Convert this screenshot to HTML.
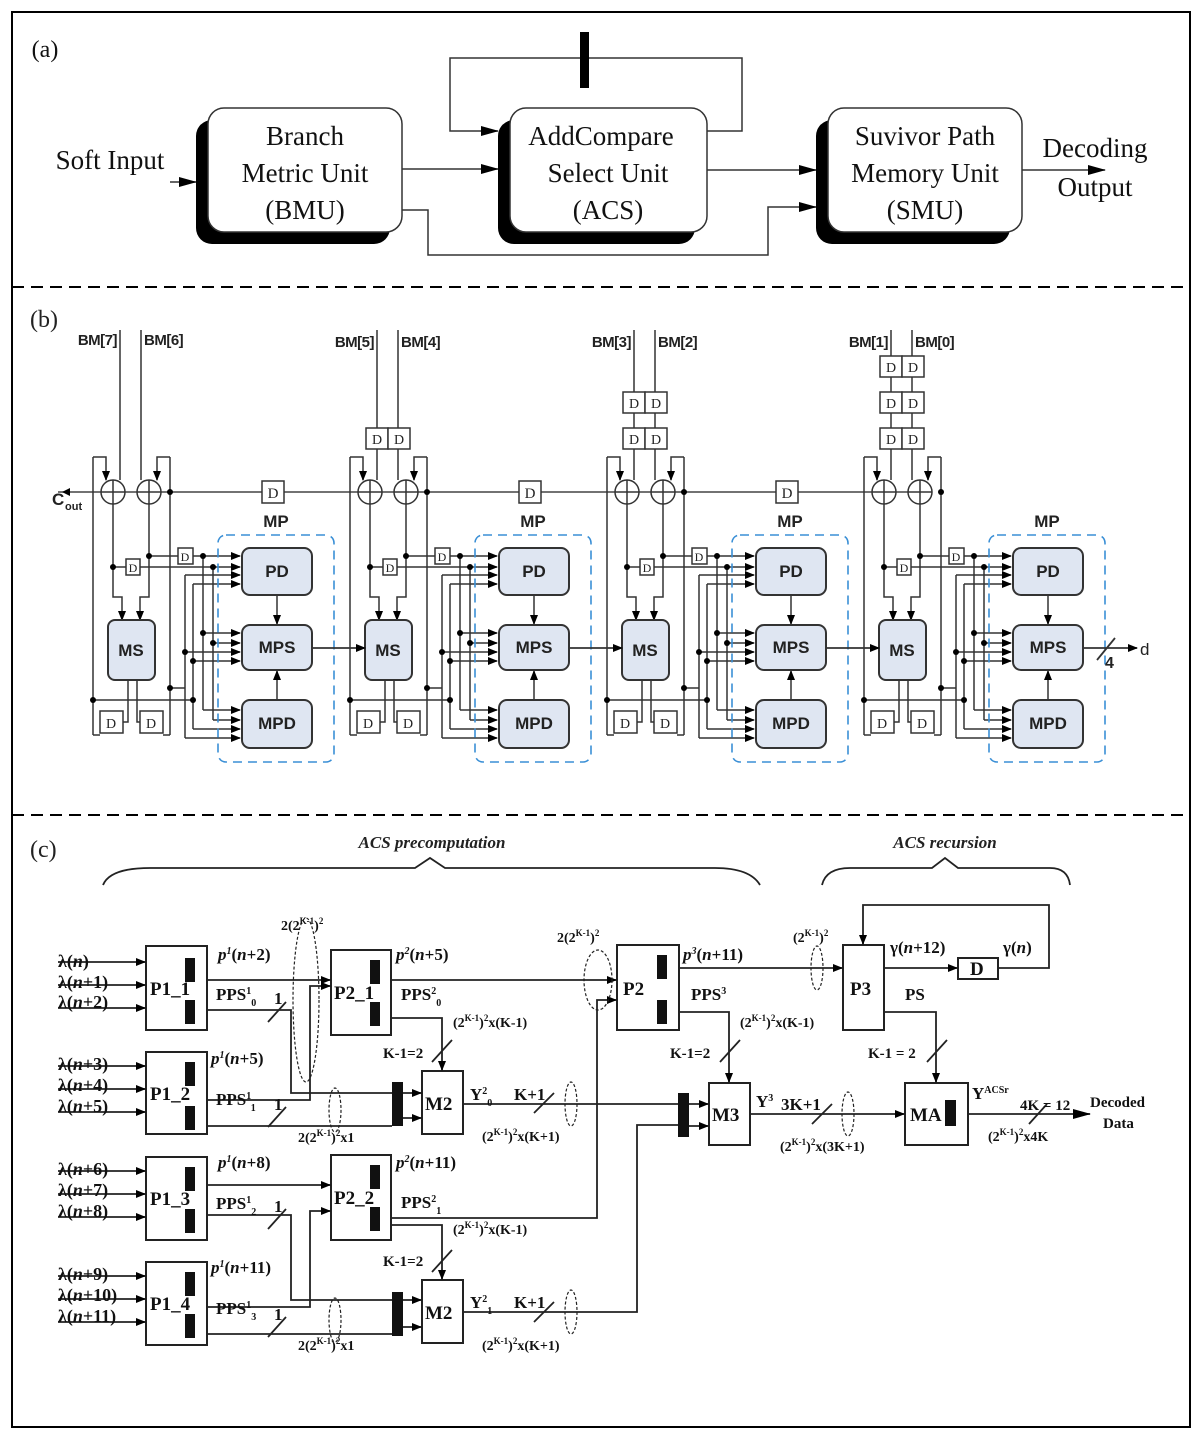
<!DOCTYPE html>
<html><head><meta charset="utf-8"><style>
html,body{margin:0;padding:0;background:#fff;}
svg{display:block;}
.s{font-family:"Liberation Serif",serif;}
.b{font-family:"Liberation Sans",sans-serif;font-weight:bold;}
.c{font-family:"Liberation Serif",serif;font-weight:bold;font-size:17px;}
</style></head><body>
<svg width="1204" height="1441" viewBox="0 0 1204 1441" xmlns="http://www.w3.org/2000/svg">
<defs>
<marker id="a" markerWidth="10" markerHeight="8" refX="9" refY="4" orient="auto" markerUnits="userSpaceOnUse"><path d="M0,0 L10,4 L0,8 z" fill="#000"/></marker>
<marker id="as" markerWidth="18" markerHeight="10" refX="17" refY="5" orient="auto" markerUnits="userSpaceOnUse"><path d="M0,0 L18,5 L0,10 z" fill="#000"/></marker>
</defs>
<rect x="12" y="12" width="1178" height="1415" fill="none" stroke="#000" stroke-width="2"/>
<line x1="12" y1="287" x2="1190" y2="287" stroke="#000" stroke-width="2" stroke-dasharray="12,7"/>
<line x1="12" y1="815" x2="1190" y2="815" stroke="#000" stroke-width="2" stroke-dasharray="12,7"/>

<!-- (a) -->
<g class="s" font-size="27" fill="#111" text-anchor="middle">
<text x="45" y="57" font-size="24">(a)</text>
<rect x="196" y="120" width="194" height="124" rx="16" fill="#000"/>
<rect x="208" y="108" width="194" height="124" rx="16" fill="#fff" stroke="#333" stroke-width="1.5"/>
<text x="305" y="145">Branch</text><text x="305" y="182">Metric Unit</text><text x="305" y="219">(BMU)</text>
<rect x="498" y="120" width="197" height="124" rx="16" fill="#000"/>
<rect x="510" y="108" width="197" height="124" rx="16" fill="#fff" stroke="#333" stroke-width="1.5"/>
<text x="601" y="145">AddCompare</text><text x="608" y="182">Select Unit</text><text x="608" y="219">(ACS)</text>
<rect x="816" y="120" width="194" height="124" rx="16" fill="#000"/>
<rect x="828" y="108" width="194" height="124" rx="16" fill="#fff" stroke="#333" stroke-width="1.5"/>
<text x="925" y="145">Suvivor Path</text><text x="925" y="182">Memory Unit</text><text x="925" y="219">(SMU)</text>
<text x="110" y="169">Soft Input</text>
<text x="1095" y="157">Decoding</text><text x="1095" y="196">Output</text>
</g>
<g stroke="#333" stroke-width="1.5" fill="none">
<line x1="170" y1="182" x2="196" y2="182" marker-end="url(#as)"/>
<line x1="402" y1="169" x2="498" y2="169" marker-end="url(#as)"/>
<line x1="707" y1="170" x2="816" y2="170" marker-end="url(#as)"/>
<path d="M402,210 H428 V255 H768 V207 H816" marker-end="url(#as)"/>
<path d="M707,131 H742 V58 H450 V131 H498" marker-end="url(#as)"/>
<line x1="1022" y1="170" x2="1105" y2="170" marker-end="url(#as)"/>
</g>
<rect x="580" y="32" width="9" height="56" fill="#000"/>

<!-- (b) -->
<text x="30" y="327" class="s" font-size="24" fill="#222">(b)</text>
<line x1="58" y1="492" x2="930" y2="492" stroke="#444" stroke-width="1.5"/>
<path d="M62,492 l8,-4 v8z" fill="#000"/>
<text x="52" y="505" class="b" font-size="17" fill="#222">C</text><text x="65" y="510" class="b" font-size="11" fill="#222">out</text>
<g stroke="#333" stroke-width="1.5" fill="#fff" class="s">
<rect x="262" y="481" width="22" height="22"/><rect x="519" y="481" width="22" height="22"/><rect x="776" y="481" width="22" height="22"/>
</g>
<g class="s" font-size="15" text-anchor="middle" fill="#222"><text x="273" y="498">D</text><text x="530" y="498">D</text><text x="787" y="498">D</text></g>

<g id="mod">
<g stroke="#333" stroke-width="1.5" fill="none">
<line x1="120" y1="330" x2="120" y2="480"/><line x1="141" y1="330" x2="141" y2="480"/>
<path d="M93,457 H106 V480" marker-end="url(#a)"/><path d="M170,457 H157 V480" marker-end="url(#a)"/>
<line x1="93" y1="457" x2="93" y2="735"/><line x1="170" y1="457" x2="170" y2="735"/>
<path d="M93,735 H100"/><path d="M170,735 H163"/>
<circle cx="113" cy="492" r="12" fill="#fff"/><circle cx="149" cy="492" r="12" fill="#fff"/>
<line x1="101" y1="492" x2="125" y2="492"/><line x1="113" y1="480" x2="113" y2="504"/>
<line x1="137" y1="492" x2="161" y2="492"/><line x1="149" y1="480" x2="149" y2="504"/>
<path d="M113,504 V597 H122 V620" marker-end="url(#a)"/>
<path d="M149,504 V597 H140 V620" marker-end="url(#a)"/>
<path d="M113,567 H240" marker-end="url(#a)"/>
<path d="M149,556 H240" marker-end="url(#a)"/>
<path d="M185,575 H240" marker-end="url(#a)"/>
<path d="M193,584 H240" marker-end="url(#a)"/>
<line x1="203" y1="556" x2="203" y2="710"/><line x1="213" y1="567" x2="213" y2="720"/>
<line x1="185" y1="575" x2="185" y2="738"/><line x1="193" y1="584" x2="193" y2="729"/>
<path d="M203,633 H240" marker-end="url(#a)"/><path d="M213,643 H240" marker-end="url(#a)"/>
<path d="M185,652 H240" marker-end="url(#a)"/><path d="M193,661 H240" marker-end="url(#a)"/>
<path d="M203,710 H240" marker-end="url(#a)"/><path d="M213,720 H240" marker-end="url(#a)"/>
<path d="M193,729 H240" marker-end="url(#a)"/><path d="M185,738 H240" marker-end="url(#a)"/>
<line x1="93" y1="700" x2="193" y2="700"/><line x1="170" y1="688" x2="185" y2="688"/>
<path d="M128,680 V722 H123"/><path d="M137,680 V722 H140"/>
<line x1="277" y1="595" x2="277" y2="624" marker-end="url(#a)"/>
<line x1="277" y1="700" x2="277" y2="671" marker-end="url(#a)"/>
<rect x="100" y="711" width="23" height="22" fill="#fff"/><rect x="140" y="711" width="23" height="22" fill="#fff"/>
<rect x="126" y="559" width="14" height="16" fill="#fff"/><rect x="178" y="548" width="15" height="16" fill="#fff"/>
</g>
<g fill="#000"><circle cx="113" cy="567" r="3"/><circle cx="149" cy="556" r="3"/><circle cx="203" cy="556" r="3"/><circle cx="213" cy="567" r="3"/>
<circle cx="203" cy="633" r="3"/><circle cx="213" cy="643" r="3"/><circle cx="185" cy="652" r="3"/><circle cx="193" cy="661" r="3"/>
<circle cx="93" cy="700" r="3"/><circle cx="193" cy="700" r="3"/><circle cx="170" cy="688" r="3"/><circle cx="170" cy="492" r="3"/></g>
<g class="s" font-size="14" text-anchor="middle" fill="#222"><text x="111" y="728">D</text><text x="151" y="728">D</text><text x="133" y="572" font-size="12">D</text><text x="185" y="561" font-size="12">D</text></g>
<rect x="218" y="535" width="116" height="227" rx="8" fill="none" stroke="#3a8fd6" stroke-width="1.6" stroke-dasharray="9,6"/>
<g stroke="#333" stroke-width="2" fill="#dfe6f2">
<rect x="108" y="620" width="47" height="60" rx="7"/>
<rect x="242" y="548" width="70" height="47" rx="8"/>
<rect x="242" y="625" width="70" height="45" rx="8"/>
<rect x="242" y="700" width="70" height="48" rx="8"/>
</g>
<g class="b" font-size="17" text-anchor="middle" fill="#222">
<text x="131" y="656">MS</text><text x="277" y="577">PD</text><text x="277" y="653">MPS</text><text x="277" y="729">MPD</text><text x="276" y="527">MP</text>
</g>
</g>
<use href="#mod" x="257"/><use href="#mod" x="514"/><use href="#mod" x="771"/>
<g stroke="#333" stroke-width="1.8" fill="none">
<line x1="312" y1="648" x2="365" y2="648" marker-end="url(#a)"/>
<line x1="569" y1="648" x2="622" y2="648" marker-end="url(#a)"/>
<line x1="826" y1="648" x2="879" y2="648" marker-end="url(#a)"/>
<line x1="1083" y1="648" x2="1137" y2="648" marker-end="url(#a)"/>
<line x1="1097" y1="660" x2="1115" y2="638"/>
</g>
<g class="b" font-size="15" fill="#222" letter-spacing="-0.5">
<text x="117" y="345" text-anchor="end">BM[7]</text><text x="144" y="345">BM[6]</text>
<text x="374" y="347" text-anchor="end">BM[5]</text><text x="401" y="347">BM[4]</text>
<text x="631" y="347" text-anchor="end">BM[3]</text><text x="658" y="347">BM[2]</text>
<text x="888" y="347" text-anchor="end">BM[1]</text><text x="915" y="347">BM[0]</text>
<text x="1105" y="668" font-size="16">4</text><text x="1140" y="655" font-size="17" font-weight="normal">d</text>
</g>
<g stroke="#333" stroke-width="1.5" fill="#fff">
<rect x="366" y="428" width="22" height="21"/><rect x="388" y="428" width="22" height="21"/>
<rect x="623" y="392" width="22" height="21"/><rect x="645" y="392" width="22" height="21"/>
<rect x="623" y="428" width="22" height="21"/><rect x="645" y="428" width="22" height="21"/>
<rect x="880" y="356" width="22" height="21"/><rect x="902" y="356" width="22" height="21"/>
<rect x="880" y="392" width="22" height="21"/><rect x="902" y="392" width="22" height="21"/>
<rect x="880" y="428" width="22" height="21"/><rect x="902" y="428" width="22" height="21"/>
</g>
<g class="s" font-size="14" text-anchor="middle" fill="#222">
<text x="377" y="444">D</text><text x="399" y="444">D</text>
<text x="634" y="408">D</text><text x="656" y="408">D</text><text x="634" y="444">D</text><text x="656" y="444">D</text>
<text x="891" y="372">D</text><text x="913" y="372">D</text><text x="891" y="408">D</text><text x="913" y="408">D</text><text x="891" y="444">D</text><text x="913" y="444">D</text>
</g>

<!-- (c) -->
<text x="30" y="857" class="s" font-size="24" fill="#222">(c)</text>
<g stroke="#222" stroke-width="1.8" fill="none">
<path d="M103,885 Q110,868 150,868 H415 L430,858 L445,868 H715 Q750,868 760,885"/>
<path d="M822,885 Q826,868 850,868 H932 L945,858 L958,868 H1050 Q1068,868 1070,885"/>
</g>
<g class="c" font-style="italic" font-size="18" text-anchor="middle" fill="#222">
<text x="432" y="848">ACS precomputation</text><text x="945" y="848">ACS recursion</text>
</g>
<g stroke="#222" stroke-width="2" fill="#fff">
<rect x="146" y="946" width="61" height="84"/><rect x="146" y="1052" width="61" height="82"/>
<rect x="146" y="1157" width="61" height="83"/><rect x="146" y="1262" width="61" height="83"/>
<rect x="331" y="950" width="60" height="85"/><rect x="331" y="1155" width="60" height="85"/>
<rect x="422" y="1071" width="41" height="63"/><rect x="422" y="1280" width="41" height="63"/>
<rect x="617" y="945" width="62" height="85"/><rect x="709" y="1083" width="41" height="62"/>
<rect x="843" y="945" width="41" height="85"/><rect x="958" y="958" width="40" height="21"/>
<rect x="905" y="1083" width="63" height="62"/>
</g>
<g fill="#111">
<rect x="185" y="958" width="10" height="24"/><rect x="185" y="1000" width="10" height="24"/>
<rect x="185" y="1062" width="10" height="24"/><rect x="185" y="1106" width="10" height="24"/>
<rect x="185" y="1167" width="10" height="24"/><rect x="185" y="1209" width="10" height="24"/>
<rect x="185" y="1272" width="10" height="24"/><rect x="185" y="1314" width="10" height="24"/>
<rect x="370" y="960" width="10" height="24"/><rect x="370" y="1002" width="10" height="24"/>
<rect x="370" y="1165" width="10" height="24"/><rect x="370" y="1207" width="10" height="24"/>
<rect x="657" y="955" width="10" height="24"/><rect x="657" y="1000" width="10" height="24"/>
<rect x="945" y="1100" width="11" height="26"/>
<rect x="392" y="1082" width="11" height="44"/><rect x="392" y="1292" width="11" height="44"/>
<rect x="678" y="1093" width="11" height="44"/>
</g>
<g stroke="#222" stroke-width="1.8" fill="none">
<path d="M58,962 H145" marker-end="url(#a)"/><path d="M58,985 H145" marker-end="url(#a)"/><path d="M58,1008 H145" marker-end="url(#a)"/>
<path d="M58,1066 H145" marker-end="url(#a)"/><path d="M58,1089 H145" marker-end="url(#a)"/><path d="M58,1112 H145" marker-end="url(#a)"/>
<path d="M58,1171 H145" marker-end="url(#a)"/><path d="M58,1194 H145" marker-end="url(#a)"/><path d="M58,1217 H145" marker-end="url(#a)"/>
<path d="M58,1276 H145" marker-end="url(#a)"/><path d="M58,1299 H145" marker-end="url(#a)"/><path d="M58,1322 H145" marker-end="url(#a)"/>
<path d="M207,980 H330" marker-end="url(#a)"/>
<path d="M207,1010 H291 V1093 H392"/>
<path d="M207,1100 H310 V986 H330" marker-end="url(#a)"/>
<path d="M207,1126 H392"/>
<path d="M207,1185 H330" marker-end="url(#a)"/>
<path d="M207,1215 H291 V1300 H392"/>
<path d="M207,1307 H310 V1211 H330" marker-end="url(#a)"/>
<path d="M207,1334 H392"/>
<path d="M403,1093 H421" marker-end="url(#a)"/><path d="M403,1118 H421" marker-end="url(#a)"/>
<path d="M403,1300 H421" marker-end="url(#a)"/><path d="M403,1327 H421" marker-end="url(#a)"/>
<path d="M391,980 H616" marker-end="url(#a)"/>
<path d="M391,1018 H442 V1070" marker-end="url(#a)"/>
<path d="M391,1225 H442 V1279" marker-end="url(#a)"/>
<path d="M391,1218 H597 V1000 H616" marker-end="url(#a)"/>
<path d="M463,1104 H678"/>
<path d="M463,1312 H637 V1125 H678"/>
<path d="M689,1104 H708" marker-end="url(#a)"/><path d="M689,1126 H708" marker-end="url(#a)"/>
<path d="M679,1012 H729 V1082" marker-end="url(#a)"/>
<path d="M679,968 H842" marker-end="url(#a)"/>
<path d="M884,968 H957" marker-end="url(#a)"/>
<path d="M998,968 H1049 V905 H863 V944" marker-end="url(#a)"/>
<path d="M884,1012 H936 V1082" marker-end="url(#a)"/>
<path d="M750,1114 H904" marker-end="url(#a)"/>
<path d="M968,1114 H1090" marker-end="url(#as)"/>
<line x1="268" y1="1022" x2="286" y2="1002"/><line x1="268" y1="1127" x2="286" y2="1107"/>
<line x1="268" y1="1229" x2="286" y2="1209"/><line x1="268" y1="1337" x2="286" y2="1317"/>
<line x1="432" y1="1062" x2="452" y2="1040"/><line x1="432" y1="1272" x2="452" y2="1250"/>
<line x1="534" y1="1113" x2="554" y2="1093"/><line x1="534" y1="1322" x2="554" y2="1302"/>
<line x1="720" y1="1062" x2="740" y2="1040"/><line x1="927" y1="1062" x2="947" y2="1040"/>
<line x1="812" y1="1124" x2="832" y2="1104"/><line x1="1029" y1="1124" x2="1047" y2="1104"/>
</g>
<g stroke="#222" stroke-width="1.2" fill="none" stroke-dasharray="3,2">
<ellipse cx="306" cy="1000" rx="13" ry="82"/><ellipse cx="598" cy="980" rx="14" ry="30"/>
<ellipse cx="335" cy="1110" rx="6" ry="22"/><ellipse cx="335" cy="1320" rx="6" ry="22"/>
<ellipse cx="571" cy="1104" rx="6" ry="22"/><ellipse cx="571" cy="1312" rx="6" ry="22"/>
<ellipse cx="817" cy="968" rx="6" ry="22"/><ellipse cx="848" cy="1114" rx="6" ry="22"/>
</g>
<g class="c" fill="#111">
<g font-size="18">
<text x="58" y="967">λ(<tspan font-style="italic">n</tspan>)</text>
<text x="58" y="988">λ(<tspan font-style="italic">n</tspan>+1)</text>
<text x="58" y="1008">λ(<tspan font-style="italic">n</tspan>+2)</text>
<text x="58" y="1070">λ(<tspan font-style="italic">n</tspan>+3)</text>
<text x="58" y="1091">λ(<tspan font-style="italic">n</tspan>+4)</text>
<text x="58" y="1112">λ(<tspan font-style="italic">n</tspan>+5)</text>
<text x="58" y="1175">λ(<tspan font-style="italic">n</tspan>+6)</text>
<text x="58" y="1196">λ(<tspan font-style="italic">n</tspan>+7)</text>
<text x="58" y="1217">λ(<tspan font-style="italic">n</tspan>+8)</text>
<text x="58" y="1280">λ(<tspan font-style="italic">n</tspan>+9)</text>
<text x="58" y="1301">λ(<tspan font-style="italic">n</tspan>+10)</text>
<text x="58" y="1322">λ(<tspan font-style="italic">n</tspan>+11)</text>
</g>
<g font-size="19"><text x="150" y="995">P1_1</text><text x="150" y="1100">P1_2</text><text x="150" y="1205">P1_3</text><text x="150" y="1310">P1_4</text>
<text x="334" y="999">P2_1</text><text x="334" y="1204">P2_2</text>
<text x="425" y="1110">M2</text><text x="425" y="1319">M2</text><text x="623" y="995">P2</text><text x="712" y="1121">M3</text><text x="850" y="995">P3</text><text x="970" y="975">D</text><text x="910" y="1121">MA</text></g>
<text x="218" y="960" font-style="italic">p<tspan font-size="10" dy="-6">1</tspan><tspan dy="6" font-style="normal">(</tspan>n<tspan font-style="normal">+2)</tspan></text>
<text x="211" y="1064" font-style="italic">p<tspan font-size="10" dy="-6">1</tspan><tspan dy="6" font-style="normal">(</tspan>n<tspan font-style="normal">+5)</tspan></text>
<text x="218" y="1168" font-style="italic">p<tspan font-size="10" dy="-6">1</tspan><tspan dy="6" font-style="normal">(</tspan>n<tspan font-style="normal">+8)</tspan></text>
<text x="211" y="1273" font-style="italic">p<tspan font-size="10" dy="-6">1</tspan><tspan dy="6" font-style="normal">(</tspan>n<tspan font-style="normal">+11)</tspan></text>
<text x="396" y="960" font-style="italic">p<tspan font-size="10" dy="-6">2</tspan><tspan dy="6" font-style="normal">(</tspan>n<tspan font-style="normal">+5)</tspan></text>
<text x="396" y="1168" font-style="italic">p<tspan font-size="10" dy="-6">2</tspan><tspan dy="6" font-style="normal">(</tspan>n<tspan font-style="normal">+11)</tspan></text>
<text x="683" y="960" font-style="italic">p<tspan font-size="10" dy="-6">3</tspan><tspan dy="6" font-style="normal">(</tspan>n<tspan font-style="normal">+11)</tspan></text>
<text x="216" y="1000">PPS<tspan font-size="10" dy="-6">1</tspan><tspan font-size="10" dy="12">0</tspan></text>
<text x="216" y="1105">PPS<tspan font-size="10" dy="-6">1</tspan><tspan font-size="10" dy="12">1</tspan></text>
<text x="216" y="1209">PPS<tspan font-size="10" dy="-6">1</tspan><tspan font-size="10" dy="12">2</tspan></text>
<text x="216" y="1314">PPS<tspan font-size="10" dy="-6">1</tspan><tspan font-size="10" dy="12">3</tspan></text>
<text x="274" y="1004">1</text><text x="274" y="1110">1</text><text x="274" y="1212">1</text><text x="274" y="1320">1</text>
<text x="401" y="1000">PPS<tspan font-size="10" dy="-6">2</tspan><tspan font-size="10" dy="12">0</tspan></text>
<text x="401" y="1208">PPS<tspan font-size="10" dy="-6">2</tspan><tspan font-size="10" dy="12">1</tspan></text>
<text x="691" y="1000">PPS<tspan font-size="10" dy="-6">3</tspan></text>
<text x="905" y="1000">PS</text>
<text x="890" y="953">γ(<tspan font-style="italic">n</tspan>+12)</text>
<text x="1003" y="953">γ(<tspan font-style="italic">n</tspan>)</text>
<text x="453" y="1027" font-size="14">(2<tspan font-size="9" dy="-6">K-1</tspan><tspan dy="6">)</tspan><tspan font-size="9" dy="-6">2</tspan><tspan dy="6">x(K-1)</tspan></text>
<text x="453" y="1234" font-size="14">(2<tspan font-size="9" dy="-6">K-1</tspan><tspan dy="6">)</tspan><tspan font-size="9" dy="-6">2</tspan><tspan dy="6">x(K-1)</tspan></text>
<text x="740" y="1027" font-size="14">(2<tspan font-size="9" dy="-6">K-1</tspan><tspan dy="6">)</tspan><tspan font-size="9" dy="-6">2</tspan><tspan dy="6">x(K-1)</tspan></text>
<text x="383" y="1058" font-size="15">K-1=2</text><text x="383" y="1266" font-size="15">K-1=2</text>
<text x="670" y="1058" font-size="15">K-1=2</text><text x="868" y="1058" font-size="15">K-1 = 2</text>
<text x="281" y="930" font-size="14">2(2<tspan font-size="9" dy="-6">K-1</tspan><tspan dy="6">)</tspan><tspan font-size="9" dy="-6">2</tspan></text>
<text x="557" y="942" font-size="14">2(2<tspan font-size="9" dy="-6">K-1</tspan><tspan dy="6">)</tspan><tspan font-size="9" dy="-6">2</tspan></text>
<text x="793" y="942" font-size="14">(2<tspan font-size="9" dy="-6">K-1</tspan><tspan dy="6">)</tspan><tspan font-size="9" dy="-6">2</tspan></text>
<text x="298" y="1142" font-size="14">2(2<tspan font-size="9" dy="-6">K-1</tspan><tspan dy="6">)</tspan><tspan font-size="9" dy="-6">2</tspan><tspan dy="6">x1</tspan></text>
<text x="298" y="1350" font-size="14">2(2<tspan font-size="9" dy="-6">K-1</tspan><tspan dy="6">)</tspan><tspan font-size="9" dy="-6">2</tspan><tspan dy="6">x1</tspan></text>
<text x="482" y="1141" font-size="14">(2<tspan font-size="9" dy="-6">K-1</tspan><tspan dy="6">)</tspan><tspan font-size="9" dy="-6">2</tspan><tspan dy="6">x(K+1)</tspan></text>
<text x="482" y="1350" font-size="14">(2<tspan font-size="9" dy="-6">K-1</tspan><tspan dy="6">)</tspan><tspan font-size="9" dy="-6">2</tspan><tspan dy="6">x(K+1)</tspan></text>
<text x="780" y="1151" font-size="14">(2<tspan font-size="9" dy="-6">K-1</tspan><tspan dy="6">)</tspan><tspan font-size="9" dy="-6">2</tspan><tspan dy="6">x(3K+1)</tspan></text>
<text x="988" y="1141" font-size="14">(2<tspan font-size="9" dy="-6">K-1</tspan><tspan dy="6">)</tspan><tspan font-size="9" dy="-6">2</tspan><tspan dy="6">x4K</tspan></text>
<text x="470" y="1100">Y<tspan font-size="10" dy="-6">2</tspan><tspan font-size="10" dy="12">0</tspan></text>
<text x="470" y="1308">Y<tspan font-size="10" dy="-6">2</tspan><tspan font-size="10" dy="12">1</tspan></text>
<text x="514" y="1100">K+1</text><text x="514" y="1308">K+1</text>
<text x="756" y="1107">Y<tspan font-size="10" dy="-6">3</tspan></text><text x="781" y="1110">3K+1</text>
<text x="972" y="1099">Y<tspan font-size="10" dy="-6">ACSr</tspan></text>
<text x="1020" y="1110" font-size="15">4K = 12</text>
<text x="1090" y="1107" font-size="15">Decoded</text><text x="1103" y="1128" font-size="15">Data</text>
</g>
</svg>
</body></html>
